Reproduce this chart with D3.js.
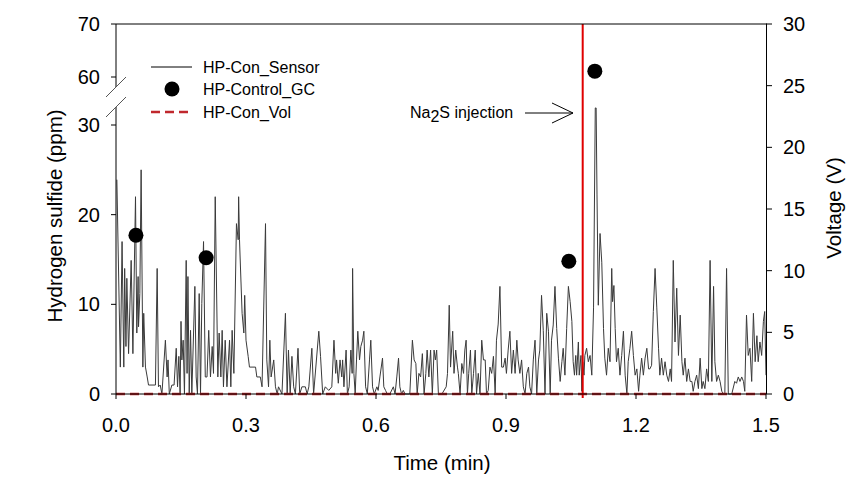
<!DOCTYPE html>
<html>
<head>
<meta charset="utf-8">
<script src="https://cdn.jsdelivr.net/npm/d3@7/dist/d3.min.js"></script>
<style>
  html, body { margin: 0; padding: 0; background: #fff; }
  svg text { font-family: "Liberation Sans", Arial, sans-serif; fill: #000; }
</style>
</head>
<body>
<div id="chart"></div>
<script>
// H2S sensor trace [time (min), ppm]
const sensorReadings = [
  [0.002,23.9],[0.010,3.0],[0.014,17.0],[0.018,3.0],[0.020,14.0],[0.023,5.3],[0.025,12.9],[0.029,4.5],[0.032,9.7],[0.035,14.9],
  [0.039,4.5],[0.045,22.0],[0.048,6.8],[0.051,13.1],[0.052,7.5],[0.055,11.2],[0.058,25.0],[0.062,3.0],[0.064,9.0],[0.068,3.0],
  [0.072,1.9],[0.075,1.0],[0.091,1.0],[0.095,14.0],[0.098,0.8],[0.102,1.0],[0.106,0],[0.114,6.0],[0.118,1.9],[0.120,3.8],
  [0.123,0],[0.129,1.0],[0.134,1.0],[0.139,5.1],[0.142,0.8],[0.145,4.2],[0.148,0],[0.150,8.1],[0.152,3.8],[0.155,6.0],
  [0.158,0],[0.162,14.9],[0.164,2.3],[0.166,13.1],[0.169,0],[0.172,7.1],[0.175,0],[0.182,12.0],[0.185,1.9],[0.188,0],
  [0.192,11.2],[0.195,0],[0.198,10.1],[0.202,17.0],[0.206,1.9],[0.210,1.9],[0.214,7.1],[0.218,1.9],[0.222,5.3],[0.225,2.3],
  [0.229,22.0],[0.235,1.9],[0.238,6.8],[0.242,1.9],[0.245,7.1],[0.248,0.8],[0.252,6.0],[0.256,0.8],[0.262,6.0],[0.265,0.8],
  [0.268,7.1],[0.272,2.3],[0.278,19.0],[0.282,17.2],[0.283,22.0],[0.285,17.2],[0.291,9.0],[0.295,6.8],[0.297,11.0],[0.300,6.0],
  [0.305,4.2],[0.308,3.0],[0.322,3.0],[0.325,1.9],[0.333,1.9],[0.337,0.8],[0.345,19.0],[0.348,3.8],[0.352,0.8],[0.355,6.0],
  [0.358,1.9],[0.364,3.8],[0.368,0.8],[0.372,0],[0.375,0.8],[0.383,0],[0.391,9.0],[0.395,0],[0.398,4.9],[0.402,0],
  [0.406,4.2],[0.410,0.8],[0.414,0],[0.420,5.1],[0.424,0],[0.429,0.8],[0.437,0.8],[0.441,0],[0.445,0.8],[0.452,5.1],
  [0.456,0],[0.468,7.0],[0.472,4.2],[0.477,0],[0.483,0.8],[0.491,0.4],[0.498,0.8],
  [0.503,6.0],[0.507,2.3],[0.509,3.8],[0.513,1.2],[0.517,3.8],[0.521,1.9],[0.523,3.8],[0.526,0.8],[0.531,4.9],[0.534,0],
  [0.538,0.8],[0.542,4.9],[0.545,2.3],[0.546,14.0],[0.549,2.3],[0.552,0],[0.555,3.8],[0.558,7.0],[0.562,3.8],[0.565,5.3],
  [0.569,6.0],[0.572,7.0],[0.576,0.8],[0.580,0],[0.585,3.8],[0.588,6.0],[0.592,0.8],[0.596,0],[0.602,0.8],[0.605,0.4],
  [0.609,1.9],[0.615,4.0],[0.618,0.8],[0.622,0.4],[0.626,0],[0.632,0],[0.640,0.8],[0.644,0],[0.648,1.9],[0.652,4.0],
  [0.655,0.8],[0.659,0],[0.663,0.4],[0.667,0],[0.678,0],[0.684,6.0],[0.688,3.8],[0.692,3.4],[0.695,0],[0.699,2.3],
  [0.703,1.9],[0.707,4.5],[0.711,0],[0.715,2.3],[0.718,4.9],[0.722,1.9],[0.726,4.9],[0.730,0],[0.734,4.9],[0.737,3.8],
  [0.740,4.9],[0.744,0],[0.752,0],[0.762,0.8],[0.765,2.3],[0.769,9.9],[0.772,3.0],[0.777,7.0],[0.780,2.3],[0.784,4.9],
  [0.788,3.0],[0.790,2.3],[0.794,0],[0.798,3.4],[0.802,2.3],[0.805,4.9],[0.808,6.0],[0.811,0],[0.814,2.3],[0.818,4.9],
  [0.821,0],[0.825,2.3],[0.829,4.9],[0.832,0],[0.836,2.3],[0.840,0],[0.844,6.0],[0.848,3.8],[0.852,3.8],[0.855,0],
  [0.859,0.4],[0.863,3.0],[0.867,2.3],[0.871,4.2],[0.875,0],[0.878,6.0],[0.882,7.8],[0.886,12.0],[0.890,3.0],[0.894,3.0],
  [0.898,4.0],[0.901,2.3],[0.905,4.9],[0.909,7.0],[0.913,2.3],[0.917,4.9],[0.921,2.3],[0.925,6.0],[0.928,3.8],[0.932,2.3],
  [0.936,3.8],[0.940,0.8],[0.944,0],[0.948,2.3],[0.952,3.0],[0.955,0.8],[0.959,0],[0.963,3.8],[0.967,6.0],[0.971,0],
  [0.975,3.8],[0.978,4.9],[0.982,11.0],[0.986,7.1],[0.990,0],[0.994,9.0],[0.998,7.0],[1.002,0],[1.005,6.0],[1.009,7.7],
  [1.013,12.0],[1.017,7.3],[1.021,4.0],[1.025,1.4],[1.029,3.6],[1.032,5.1],[1.036,2.1],[1.040,7.3],[1.044,12.0],[1.048,10.3],
  [1.052,8.1],[1.055,3.6],[1.058,2.1],[1.061,4.3],[1.063,2.1],[1.067,5.8],[1.069,2.1],[1.073,4.3],[1.075,0.3],[1.077,3.6],
  [1.080,2.1],[1.082,4.3],[1.086,5.1],[1.090,3.6],[1.094,4.3],[1.098,2.1],[1.102,9.6],[1.106,31.9],[1.108,31.9],[1.110,22.2],
  [1.113,9.9],[1.117,17.9],[1.121,14.7],[1.125,7.3],[1.128,4.0],[1.132,2.1],[1.136,5.1],[1.140,3.6],[1.144,14.0],[1.146,10.3],
  [1.149,12.1],[1.152,7.3],[1.155,3.6],[1.159,5.1],[1.163,2.1],[1.167,4.3],[1.171,7.0],[1.175,2.1],[1.179,0],[1.182,3.6],
  [1.186,5.1],[1.190,7.0],[1.194,4.3],[1.198,2.1],[1.202,2.8],[1.206,0.3],[1.209,2.1],[1.213,4.0],[1.217,2.1],[1.221,4.0],
  [1.225,5.1],[1.229,2.8],[1.232,2.8],[1.236,3.2],[1.240,9.2],[1.244,14.0],[1.248,9.6],[1.252,5.1],[1.255,2.1],[1.259,4.0],
  [1.263,2.1],[1.267,3.6],[1.271,2.1],[1.275,1.4],[1.279,2.8],[1.282,1.4],[1.286,14.9],[1.290,5.8],[1.294,11.8],[1.298,4.3],
  [1.302,8.8],[1.306,3.6],[1.309,2.1],[1.313,4.0],[1.317,1.4],[1.321,2.8],[1.325,1.4],[1.329,1.4],[1.332,0.3],[1.336,1.4],
  [1.340,2.1],[1.344,0.6],[1.348,4.0],[1.352,0.6],[1.355,1.4],[1.359,0.6],[1.363,2.8],[1.367,1.4],[1.371,14.9],[1.375,1.4],
  [1.379,12.0],[1.382,3.6],[1.386,1.4],[1.390,2.1],[1.394,1.4],[1.398,0.3],[1.402,0],[1.405,0],[1.409,14.0],[1.413,0],
  [1.421,0],[1.428,1.4],[1.432,1.2],[1.436,1.9],[1.440,1.4],[1.444,1.9],[1.448,1.4],[1.451,0.3],[1.455,8.8],[1.459,4.3],
  [1.463,5.1],[1.467,1.4],[1.471,9.0],[1.475,3.6],[1.479,6.5],[1.482,3.6],[1.486,5.8],[1.490,4.3],[1.494,8.1],[1.497,9.2],
  [1.500,2.1]
];

// GC samples [time (min), ppm]
const gcTimes = [0.046, 0.208, 1.045, 1.105];
const gcPpm = [17.7, 15.2, 14.8, 61.1];

// Voltage trace [time, V]
const volTimes = [0, 1.5];
const volValues = [0, 0];

const injectionTime = 1.077;

const xTicks = [0, 0.3, 0.6, 0.9, 1.2, 1.5];
const yLowTicks = [0, 10, 20, 30];
const yHighTicks = [60, 70];
const yRightTicks = [0, 5, 10, 15, 20, 25, 30];

const W = 862, H = 487;
const plot = { left: 116, right: 766, top: 24, bottom: 394 };
const lowTop = 125;   // pixel of 30 ppm
const highBottom = 77; // pixel of 60 ppm
const gap = { from: 87, to: 107 };

const svg = d3.select('#chart').append('svg')
  .attr('width', W).attr('height', H);

const x = d3.scaleLinear().domain([0, 1.5]).range([plot.left, plot.right]);
const yLow = d3.scaleLinear().domain([0, 30]).range([plot.bottom, lowTop]);
const yHigh = d3.scaleLinear().domain([60, 70]).range([highBottom, plot.top]);
const yLeft = v => v >= 60 ? yHigh(v) : yLow(v);
const yRight = d3.scaleLinear().domain([0, 30]).range([plot.bottom, plot.top]);

// sensor line
svg.append('path')
  .datum(sensorReadings)
  .attr('fill', 'none')
  .attr('stroke', '#3a3a3a')
  .attr('stroke-width', 1)
  .attr('d', d3.line().x(d => x(d[0])).y(d => yLeft(d[1])));

// GC points
svg.selectAll('.gc')
  .data(gcTimes.map((t, i) => [t, gcPpm[i]]))
  .join('circle')
  .attr('cx', d => x(d[0]))
  .attr('cy', d => yLeft(d[1]))
  .attr('r', 7.5)
  .attr('fill', '#000');

// voltage (right axis)
svg.append('path')
  .datum(volTimes.map((t, i) => [t, volValues[i]]))
  .attr('fill', 'none')
  .attr('stroke', '#c0282d')
  .attr('stroke-width', 2.5)
  .attr('stroke-dasharray', '9,5')
  .attr('d', d3.line().x(d => x(d[0])).y(d => yRight(d[1])));

// injection marker
svg.append('line')
  .attr('x1', x(injectionTime)).attr('x2', x(injectionTime))
  .attr('y1', plot.top).attr('y2', plot.bottom + 4)
  .attr('stroke', '#e00000')
  .attr('stroke-width', 2);

// frame
const axisG = svg.append('g').attr('stroke', '#000').attr('stroke-width', 1);
axisG.append('line').attr('x1', plot.left).attr('x2', plot.right + 1).attr('y1', plot.top).attr('y2', plot.top);
axisG.append('line').attr('x1', plot.left).attr('x2', plot.right).attr('y1', plot.bottom).attr('y2', plot.bottom);
axisG.append('line').attr('x1', plot.left).attr('x2', plot.left).attr('y1', plot.top).attr('y2', gap.from);
axisG.append('line').attr('x1', plot.left).attr('x2', plot.left).attr('y1', gap.to).attr('y2', plot.bottom);
axisG.append('line').attr('x1', plot.right + 0.5).attr('x2', plot.right + 0.5).attr('y1', plot.top).attr('y2', plot.bottom);

// break marks
[gap.from, gap.to].forEach(yy => {
  svg.append('line')
    .attr('x1', plot.left - 10).attr('y1', yy + 10)
    .attr('x2', plot.left + 10).attr('y2', yy - 10)
    .attr('stroke', '#555').attr('stroke-width', 1);
});

// left ticks
const leftTicks = yLowTicks.concat(yHighTicks);
svg.selectAll('.ltick').data(leftTicks).join('line')
  .attr('x1', plot.left - 5).attr('x2', plot.left)
  .attr('y1', d => yLeft(d)).attr('y2', d => yLeft(d))
  .attr('stroke', '#000');
svg.selectAll('.llab').data(leftTicks).join('text')
  .attr('x', plot.left - 16).attr('y', d => yLeft(d) + 7)
  .attr('text-anchor', 'end')
  .attr('font-size', 20)
  .text(d => d);

// bottom ticks
svg.selectAll('.xtick').data(xTicks).join('line')
  .attr('x1', d => x(d)).attr('x2', d => x(d))
  .attr('y1', plot.bottom).attr('y2', plot.bottom + 5)
  .attr('stroke', '#000');
svg.selectAll('.xlab').data(xTicks).join('text')
  .attr('x', d => x(d)).attr('y', 432)
  .attr('text-anchor', 'middle')
  .attr('font-size', 20)
  .text(d => d.toFixed(1));

// right ticks
svg.selectAll('.rtick').data(yRightTicks).join('line')
  .attr('x1', plot.right).attr('x2', plot.right + 6)
  .attr('y1', d => yRight(d)).attr('y2', d => yRight(d))
  .attr('stroke', '#000');
svg.selectAll('.rlab').data(yRightTicks).join('text')
  .attr('x', plot.right + 17).attr('y', d => yRight(d) + 7)
  .attr('text-anchor', 'start')
  .attr('font-size', 20)
  .text(d => d);

// axis titles
svg.append('text')
  .attr('transform', 'translate(62,216) rotate(-90)')
  .attr('text-anchor', 'middle')
  .attr('font-size', 20.5)
  .text('Hydrogen sulfide (ppm)');
svg.append('text')
  .attr('transform', 'translate(841,208) rotate(-90)')
  .attr('text-anchor', 'middle')
  .attr('font-size', 20.5)
  .text('Voltage (V)');
svg.append('text')
  .attr('x', 442).attr('y', 470)
  .attr('text-anchor', 'middle')
  .attr('font-size', 20.5)
  .text('Time (min)');

// legend
const legend = svg.append('g');
const legendRows = ['HP-Con_Sensor', 'HP-Control_GC', 'HP-Con_Vol'];
const rowY = [67, 89, 112];
legend.append('line').attr('x1', 151).attr('x2', 192).attr('y1', rowY[0]).attr('y2', rowY[0])
  .attr('stroke', '#000').attr('stroke-width', 1);
legend.append('circle').attr('cx', 172).attr('cy', rowY[1]).attr('r', 7.5).attr('fill', '#000');
legend.append('line').attr('x1', 151).attr('x2', 192).attr('y1', rowY[2]).attr('y2', rowY[2])
  .attr('stroke', '#c0282d').attr('stroke-width', 2.5).attr('stroke-dasharray', '9,5');
legend.selectAll('text').data(legendRows).join('text')
  .attr('x', 203).attr('y', (d, i) => rowY[i] + 6)
  .attr('font-size', 16)
  .text(d => d);

// annotation
const note = svg.append('text').attr('x', 410).attr('y', 118).attr('font-size', 16);
note.append('tspan').text('Na');
note.append('tspan').attr('dy', 4).text('2');
note.append('tspan').attr('dy', -4).text('S injection');
const arrowY = 113, tipX = 573;
svg.append('line').attr('x1', 525).attr('x2', tipX).attr('y1', arrowY).attr('y2', arrowY).attr('stroke', '#000');
svg.append('path')
  .attr('d', `M${tipX - 21},${arrowY - 10}L${tipX},${arrowY}L${tipX - 21},${arrowY + 10}`)
  .attr('fill', 'none').attr('stroke', '#000').attr('stroke-width', 1);
</script>
</body>
</html>
